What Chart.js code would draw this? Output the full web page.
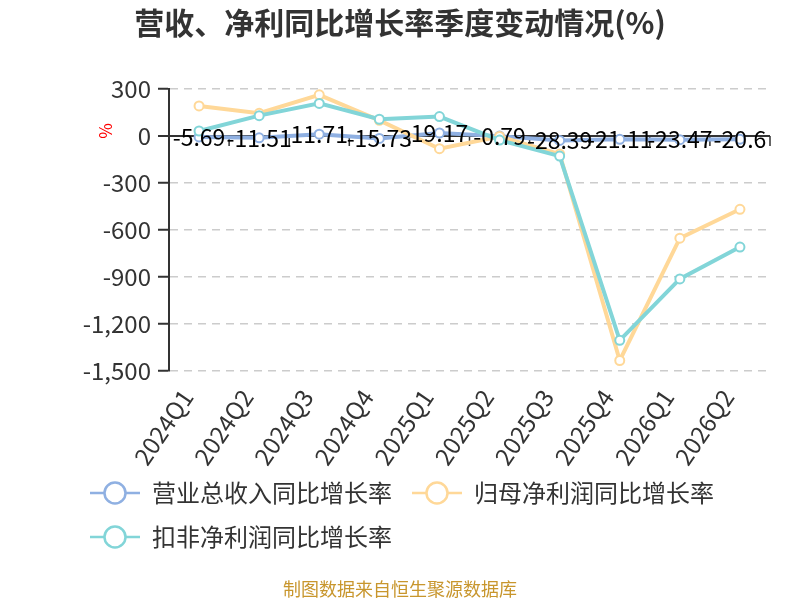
<!DOCTYPE html>
<html>
<head>
<meta charset="utf-8">
<script src="https://cdn.jsdelivr.net/npm/chart.js@4.4.1/dist/chart.umd.min.js"></script>
<style>
  html, body { margin: 0; padding: 0; background: #fff; }
</style>
</head>
<body>
<canvas id="growthChart" width="800" height="600"></canvas>
<script>
var quarters = ['2024Q1', '2024Q2', '2024Q3', '2024Q4', '2025Q1', '2025Q2', '2025Q3', '2025Q4', '2026Q1', '2026Q2'];
var revenueGrowth = [-5.69, -11.51, 11.71, -15.73, 19.17, -0.79, -28.39, -21.11, -23.47, -20.6];
var netProfitGrowth = [192, 145, 263, 100, -81, -3, -115, -1433, -652, -468];
var deductedProfitGrowth = [32, 130, 208, 107, 124, -26, -128, -1304, -912, -709];
var yTicks = [300, 0, -300, -600, -900, -1200, -1500];

var seriesNames = ['营业总收入同比增长率', '归母净利润同比增长率', '扣非净利润同比增长率'];
var seriesColors = ['#8fb0e2', '#ffd898', '#82d5d8'];

var FONT = '"Noto Sans CJK SC", "Noto Sans", sans-serif';
Chart.defaults.font.family = FONT;
Chart.defaults.color = '#333';

// legend marker: short line with a hollow circle
function legendIcon(color) {
    var c = document.createElement('canvas');
    c.width = 50; c.height = 26;
    var g = c.getContext('2d');
    g.strokeStyle = color;
    g.lineWidth = 2.5;
    g.beginPath(); g.moveTo(0, 13); g.lineTo(50, 13); g.stroke();
    g.beginPath(); g.arc(25, 13, 10.5, 0, Math.PI * 2);
    g.fillStyle = '#fff'; g.fill(); g.stroke();
    return c;
}
var legendIcons = seriesColors.map(legendIcon);

// zero line ticks, value labels, unit mark, box tweaks
var decorations = {
    id: 'decorations',
    afterLayout: function (chart) {
        chart.legend.left = 90 - chart.options.plugins.legend.labels.padding;
        // title + footer centred on the whole canvas, not the padded area
        chart.boxes.forEach(function (b) {
            if (b.fullSize && b.options && b.options.text !== undefined) b.right = chart.width;
        });
        // let the rotated tick labels hang below the x box without clipping
        chart.scales.x.bottom = chart.height;
    },
    beforeDatasetsDraw: function (chart) {
        var ctx = chart.ctx, x = chart.scales.x, y0 = chart.scales.y.getPixelForValue(0);
        ctx.save();
        ctx.strokeStyle = '#333';
        ctx.lineWidth = 1.5;
        for (var i = 0; i <= quarters.length; i++) {
            var px = x.getPixelForValue(i - 0.5);
            ctx.beginPath(); ctx.moveTo(px, y0); ctx.lineTo(px, y0 + 10); ctx.stroke();
        }
        ctx.restore();
    },
    afterDatasetsDraw: function (chart) {
        var ctx = chart.ctx, meta = chart.getDatasetMeta(0);
        ctx.save();
        ctx.font = '23px ' + FONT;
        ctx.fillStyle = '#000';
        ctx.textAlign = 'center';
        ctx.textBaseline = 'middle';
        meta.data.forEach(function (pt, i) {
            ctx.fillText(String(revenueGrowth[i]), pt.x, pt.y);
        });
        ctx.restore();
    },
    afterDraw: function (chart) {
        var ctx = chart.ctx, y0 = chart.scales.y.getPixelForValue(0);
        ctx.save();
        ctx.translate(chart.chartArea.left - 63, y0 - 5);
        ctx.rotate(-Math.PI / 2);
        ctx.font = '17px ' + FONT;
        ctx.fillStyle = '#ff0000';
        ctx.textAlign = 'center';
        ctx.textBaseline = 'middle';
        ctx.fillText('%', 0, 0);
        ctx.restore();
    }
};

function lineSet(label, data, color, order) {
    return {
        label: label,
        data: data,
        borderColor: color,
        backgroundColor: color,
        borderWidth: 4,
        pointRadius: 4.5,
        pointBorderWidth: 2,
        pointBackgroundColor: '#fff',
        pointBorderColor: color,
        tension: 0,
        order: order
    };
}

var isZero = function (c) { return c.tick && c.tick.value === 0; };

new Chart(document.getElementById('growthChart'), {
    type: 'line',
    data: {
        labels: quarters,
        datasets: [
            lineSet(seriesNames[0], revenueGrowth, seriesColors[0], 2),
            lineSet(seriesNames[1], netProfitGrowth, seriesColors[1], 1),
            lineSet(seriesNames[2], deductedProfitGrowth, seriesColors[2], 0)
        ]
    },
    plugins: [decorations],
    options: {
        responsive: false,
        animation: false,
        layout: { padding: { left: 0, right: 30, top: 0, bottom: 0 } },
        scales: {
            x: {
                offset: true,
                grid: { display: false, drawTicks: false },
                border: { display: false },
                ticks: {
                    color: '#333', font: { size: 24 },
                    minRotation: 56, maxRotation: 56,
                    padding: 13, labelOffset: -12, autoSkip: false
                },
                afterFit: function (s) { s.height = 90; }
            },
            y: {
                min: yTicks[yTicks.length - 1],
                max: yTicks[0],
                afterBuildTicks: function (s) { s.ticks = yTicks.map(function (v) { return { value: v }; }); },
                ticks: {
                    color: '#333',
                    font: { size: 24 },
                    padding: 7,
                    callback: function (v) { return Number(v).toLocaleString('en-US'); }
                },
                grid: {
                    color: function (c) { return isZero(c) ? '#333' : '#cccccc'; },
                    lineWidth: function (c) { return isZero(c) ? 2 : 1.5; },
                    tickLength: 11,
                    tickColor: '#333',
                    tickWidth: 2
                },
                border: {
                    color: '#333',
                    width: 2,
                    dash: function (c) { return isZero(c) ? [] : [8, 6]; }
                },
                afterFit: function (s) { s.width = 169; }
            }
        },
        plugins: {
            title: {
                display: true,
                text: '营收、净利同比增长率季度变动情况(%)',
                color: '#333',
                font: { size: 30, weight: 'bold' },
                padding: { top: 5, bottom: 48 }
            },
            subtitle: {
                display: true,
                position: 'bottom',
                text: '制图数据来自恒生聚源数据库',
                color: '#c8962d',
                font: { size: 18, lineHeight: 1 },
                padding: { top: 21, bottom: 2 }
            },
            legend: {
                position: 'bottom',
                align: 'start',
                labels: {
                    usePointStyle: true,
                    pointStyleWidth: 50,
                    boxHeight: 24,
                    color: '#333',
                    font: { size: 24 },
                    padding: 20,
                    sort: function (a, b) { return a.datasetIndex - b.datasetIndex; },
                    generateLabels: function (chart) {
                        return Chart.defaults.plugins.legend.labels.generateLabels(chart).map(function (item) {
                            item.pointStyle = legendIcons[item.datasetIndex];
                            return item;
                        });
                    }
                }
            },
            tooltip: { enabled: false }
        }
    }
});
</script>
</body>
</html>
